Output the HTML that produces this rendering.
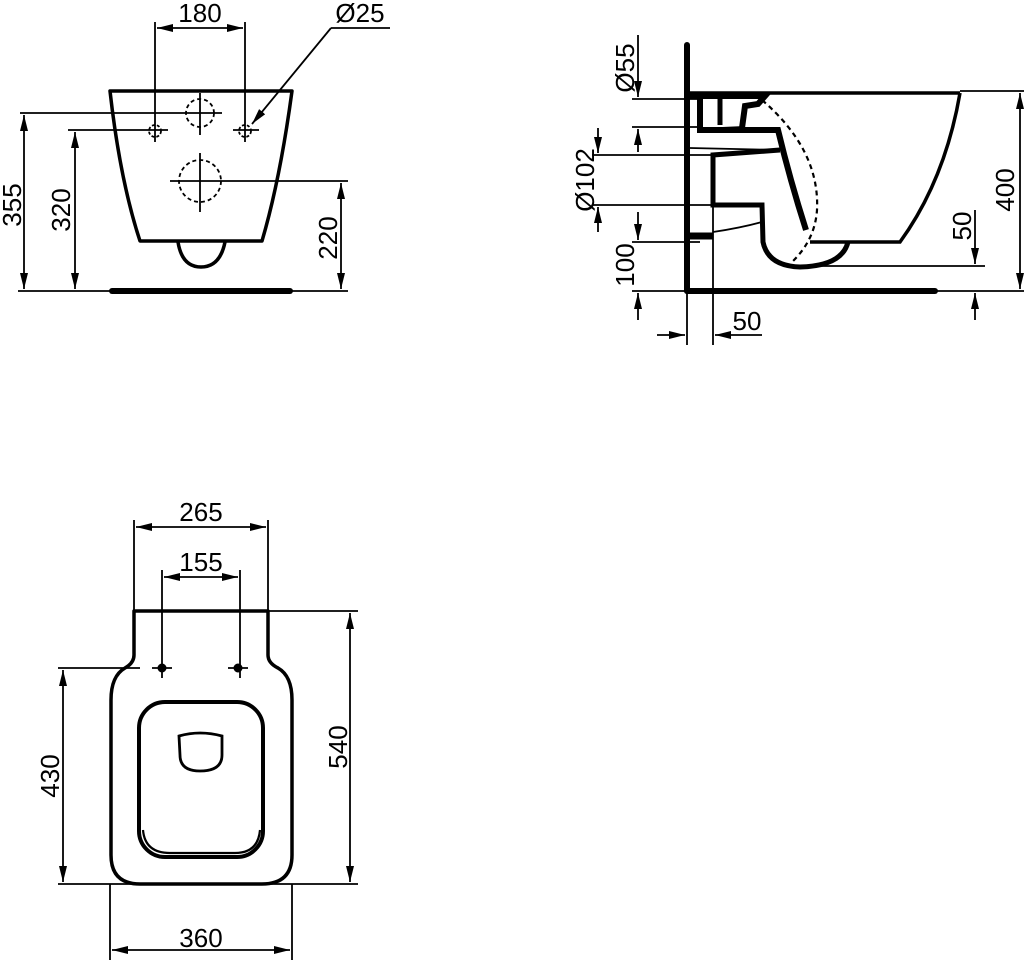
<!DOCTYPE html>
<html><head><meta charset="utf-8"><style>
html,body{margin:0;padding:0;background:#fff}
svg{display:block}
text{font-family:"Liberation Sans",Arial,sans-serif;font-size:26px;fill:#000}
</style></head><body>
<svg width="1024" height="960" viewBox="0 0 1024 960" xmlns="http://www.w3.org/2000/svg">
<defs>
<marker id="a" markerWidth="16" markerHeight="8" refX="16" refY="4" orient="auto-start-reverse" markerUnits="userSpaceOnUse">
<path d="M0,0 L16,4 L0,8 Z" fill="#000"/></marker>
</defs>
<g stroke="#000" fill="none">
<path d="M110,91 L292,91 Q280,180 262,241 L140,241 Q120,180 110,91 Z" stroke-width="3.5" stroke-linejoin="round"/>
<path d="M178,242 Q182,267 201,267 Q220,267 225,242" stroke-width="3.5"/>
<line x1="112" y1="291" x2="290" y2="291" stroke-width="6" stroke-linecap="round"/>
<circle cx="200" cy="113" r="14" stroke-width="1.8" stroke-dasharray="4,3"/>
<circle cx="200" cy="181" r="21" stroke-width="1.8" stroke-dasharray="4,3"/>
<circle cx="155" cy="131" r="6" stroke-width="1.8" stroke-dasharray="3,2"/>
<circle cx="245" cy="131" r="6" stroke-width="1.8" stroke-dasharray="3,2"/>
<g stroke-width="1.8">
<line x1="200" y1="93" x2="200" y2="135"/>
<line x1="200" y1="153" x2="200" y2="212"/>
<line x1="170" y1="181" x2="348" y2="181"/>
<line x1="20" y1="113" x2="222" y2="113"/>
<line x1="68" y1="130" x2="168" y2="130"/>
<line x1="233" y1="130" x2="259" y2="130"/>
<line x1="155" y1="22" x2="155" y2="142"/>
<line x1="245" y1="22" x2="245" y2="142"/>
<line x1="157" y1="28" x2="243" y2="28" marker-start="url(#a)" marker-end="url(#a)"/>
<line x1="390" y1="28" x2="331" y2="28"/>
<line x1="331" y1="28" x2="252" y2="124" marker-end="url(#a)"/>
<line x1="18" y1="291" x2="348" y2="291"/>
<line x1="24" y1="115" x2="24" y2="289" marker-start="url(#a)" marker-end="url(#a)"/>
<line x1="75" y1="132" x2="75" y2="289" marker-start="url(#a)" marker-end="url(#a)"/>
<line x1="341" y1="183" x2="341" y2="289" marker-start="url(#a)" marker-end="url(#a)"/>
</g>

<line x1="687" y1="45" x2="687" y2="291" stroke-width="6" stroke-linecap="round"/>
<line x1="687" y1="291" x2="935" y2="291" stroke-width="6" stroke-linecap="round"/>
<line x1="687" y1="93" x2="960" y2="93" stroke-width="3.5"/>
<path d="M960,93 Q945,180 900,242 L810,242" stroke-width="3.5"/>
<path d="M690,96 L765,96 L758,104 L745,106 L742,128" stroke-width="6"/>
<path d="M700,96 L700,130 L778,130 Q790,180 806,230" stroke-width="6"/>
<line x1="720" y1="96" x2="720" y2="125" stroke-width="5"/>
<path d="M700,130 L745,128" stroke-width="4"/>
<path d="M762,100 Q820,150 817,210 Q815,240 792,262" stroke-width="2.2" stroke-dasharray="5,4"/>
<path d="M780,150 L713,155 L713,205 L762,205 L763,242 Q768,266 800,267 Q842,266 848,242" stroke-width="5"/>
<line x1="690" y1="148" x2="780" y2="150" stroke-width="1.8"/>
<path d="M713,232 Q740,228 762,222" stroke-width="1.8"/>
<line x1="688" y1="236" x2="713" y2="236" stroke-width="7"/>
<line x1="713" y1="205" x2="713" y2="345" stroke-width="1.8"/>
<g stroke-width="1.8">
<line x1="960" y1="91" x2="1024" y2="91"/>
<line x1="935" y1="291" x2="1024" y2="291"/>
<line x1="800" y1="266" x2="985" y2="266"/>
<line x1="1020" y1="93" x2="1020" y2="289" marker-start="url(#a)" marker-end="url(#a)"/>
<line x1="975" y1="210" x2="975" y2="264" marker-end="url(#a)"/>
<line x1="975" y1="320" x2="975" y2="293" marker-end="url(#a)"/>
<line x1="632" y1="99" x2="700" y2="99"/>
<line x1="632" y1="127" x2="700" y2="127"/>
<line x1="638" y1="35" x2="638" y2="97" marker-end="url(#a)"/>
<line x1="638" y1="152" x2="638" y2="129" marker-end="url(#a)"/>
<line x1="592" y1="155" x2="713" y2="155"/>
<line x1="592" y1="205" x2="713" y2="205"/>
<line x1="598" y1="128" x2="598" y2="153" marker-end="url(#a)"/>
<line x1="598" y1="232" x2="598" y2="207" marker-end="url(#a)"/>
<line x1="632" y1="242" x2="700" y2="242"/>
<line x1="632" y1="291" x2="690" y2="291"/>
<line x1="638" y1="212" x2="638" y2="240" marker-end="url(#a)"/>
<line x1="638" y1="320" x2="638" y2="293" marker-end="url(#a)"/>
<line x1="687" y1="291" x2="687" y2="345"/>
<line x1="657" y1="335" x2="685" y2="335" marker-end="url(#a)"/>
<line x1="762" y1="335" x2="715" y2="335" marker-end="url(#a)"/>
</g>

<path d="M134,611 L268,611 L268,655 Q268,663 278,668 Q292,676 292,700 L292,855 Q292,884 262,884 L140,884 Q111,884 111,855 L111,700 Q111,676 125,668 Q134,663 134,655 Z" stroke-width="3.5" stroke-linejoin="round"/>
<rect x="139" y="702" width="124" height="155" rx="26" stroke-width="4"/>
<path d="M143,830 Q145,853 170,853 L235,853 Q258,853 260,830" stroke-width="2.2"/>
<path d="M179,736 Q200,730 222,736 L222,755 Q222,771 200,771 Q180,771 180,755 Z" stroke-width="2.8"/>
<circle cx="162" cy="668" r="4" fill="#000"/>
<circle cx="238" cy="668" r="4" fill="#000"/>
<g stroke-width="1.8">
<line x1="134" y1="520" x2="134" y2="611"/>
<line x1="268" y1="520" x2="268" y2="611"/>
<line x1="136" y1="527" x2="266" y2="527" marker-start="url(#a)" marker-end="url(#a)"/>
<line x1="162" y1="570" x2="162" y2="678"/>
<line x1="240" y1="570" x2="240" y2="678"/>
<line x1="164" y1="577" x2="238" y2="577" marker-start="url(#a)" marker-end="url(#a)"/>
<line x1="152" y1="668" x2="172" y2="668"/>
<line x1="228" y1="668" x2="248" y2="668"/>
<line x1="268" y1="611" x2="358" y2="611"/>
<line x1="58" y1="668" x2="140" y2="668"/>
<line x1="58" y1="884" x2="358" y2="884"/>
<line x1="350" y1="613" x2="350" y2="882" marker-start="url(#a)" marker-end="url(#a)"/>
<line x1="63" y1="670" x2="63" y2="882" marker-start="url(#a)" marker-end="url(#a)"/>
<line x1="110" y1="884" x2="110" y2="960"/>
<line x1="292" y1="884" x2="292" y2="960"/>
<line x1="112" y1="950" x2="290" y2="950" marker-start="url(#a)" marker-end="url(#a)"/>
</g>
</g>

<text x="200" y="22" text-anchor="middle">180</text>
<text x="360" y="22" text-anchor="middle">Ø25</text>
<text transform="translate(21,205) rotate(-90)" text-anchor="middle">355</text>
<text transform="translate(70,210) rotate(-90)" text-anchor="middle">320</text>
<text transform="translate(337,238) rotate(-90)" text-anchor="middle">220</text>
<text transform="translate(634,68) rotate(-90)" text-anchor="middle">Ø55</text>
<text transform="translate(594,180) rotate(-90)" text-anchor="middle">Ø102</text>
<text transform="translate(634,265) rotate(-90)" text-anchor="middle">100</text>
<text x="747" y="330" text-anchor="middle">50</text>
<text transform="translate(971,226) rotate(-90)" text-anchor="middle">50</text>
<text transform="translate(1014,190) rotate(-90)" text-anchor="middle">400</text>
<text x="201" y="521" text-anchor="middle">265</text>
<text x="201" y="571" text-anchor="middle">155</text>
<text transform="translate(347,747) rotate(-90)" text-anchor="middle">540</text>
<text transform="translate(59,776) rotate(-90)" text-anchor="middle">430</text>
<text x="201" y="947" text-anchor="middle">360</text>
</svg>
</body></html>
